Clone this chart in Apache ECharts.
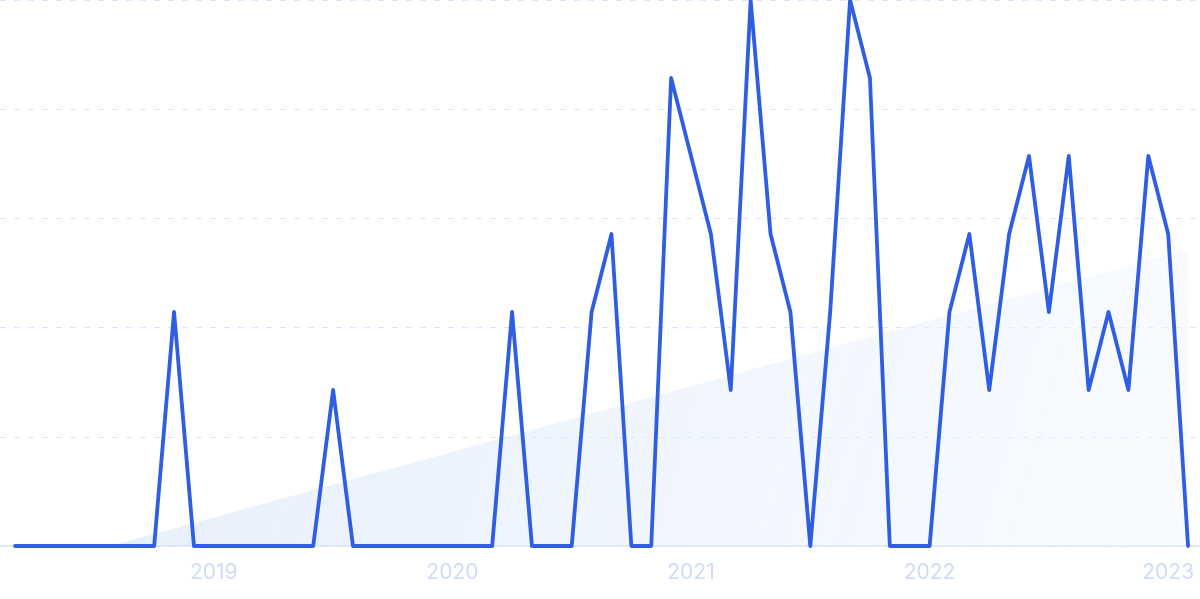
<!DOCTYPE html>
<html>
<head>
<meta charset="utf-8">
<script src="https://cdn.jsdelivr.net/npm/echarts@6/dist/echarts.min.js"></script>
<style>html,body{margin:0;padding:0;background:#fff}#c{width:1200px;height:599px}</style>
</head>
<body>
<div id="c"></div>
<script>
// Monthly values, March 2018 .. February 2023 (index 0 = Mar 2018)
const values = [0,0,0,0,0,0,0,0,3,0,0,0,0,0,0,0,2,0,0,0,0,0,0,0,0,3,0,0,0,3,4,0,0,6,5,4,2,7,4,3,0,3,7,6,0,0,0,3,4,2,4,5,3,5,2,3,2,5,4,0];
const yearTicks = [10,22,34,46,58];
const yearLabels = ['2019','2020','2021','2022','2023'];

const pts = values.map((v,i)=>[i,v]);
// least-squares trend
const n = values.length;
const mx = (n-1)/2, my = values.reduce((a,b)=>a+b,0)/n;
let sxy=0,sxx=0;
values.forEach((v,i)=>{sxy+=(i-mx)*(v-my);sxx+=(i-mx)*(i-mx);});
const slope = sxy/sxx, icpt = my - slope*mx;
const x0 = -icpt/slope;
const trend = [[x0,0],[n-1, icpt+slope*(n-1)]];

const chart = echarts.init(document.getElementById('c'));
chart.setOption({
  animation:false,
  grid:{left:0,right:0,top:0,bottom:53},
  xAxis:{type:'value',min:-0.754,max:59.6,
    axisLine:{show:true,lineStyle:{color:'#d9e4fa',width:1.5}},
    axisTick:{show:false},
    splitLine:{show:false},
    axisLabel:{customValues:yearTicks,formatter:v=>yearLabels[yearTicks.indexOf(Math.round(v))]||'',
      color:'#d0dbf5',fontSize:21,fontFamily:'Inter, Roboto, sans-serif',margin:16}
  },
  yAxis:{type:'value',min:0,max:7,interval:1.4,
    axisLabel:{show:false},axisLine:{show:false},axisTick:{show:false},
    splitLine:{show:true,lineStyle:{color:'#dbe4fa',type:[6,8],width:1.2}}
  },
  series:[
    {type:'line',data:trend,symbol:'none',lineStyle:{width:0},z:1,
     areaStyle:{origin:'start',color:new echarts.graphic.LinearGradient(0,0,1,1,[
       {offset:0,color:'rgba(210,226,250,0.8)'},{offset:1,color:'rgba(240,245,254,0.6)'}])}},
    {type:'line',data:pts,symbol:'none',z:3,clip:false,
     lineStyle:{color:'#2f5ee3',width:3.8,join:'round',cap:'round'}}
  ]
});
</script>
</body>
</html>
